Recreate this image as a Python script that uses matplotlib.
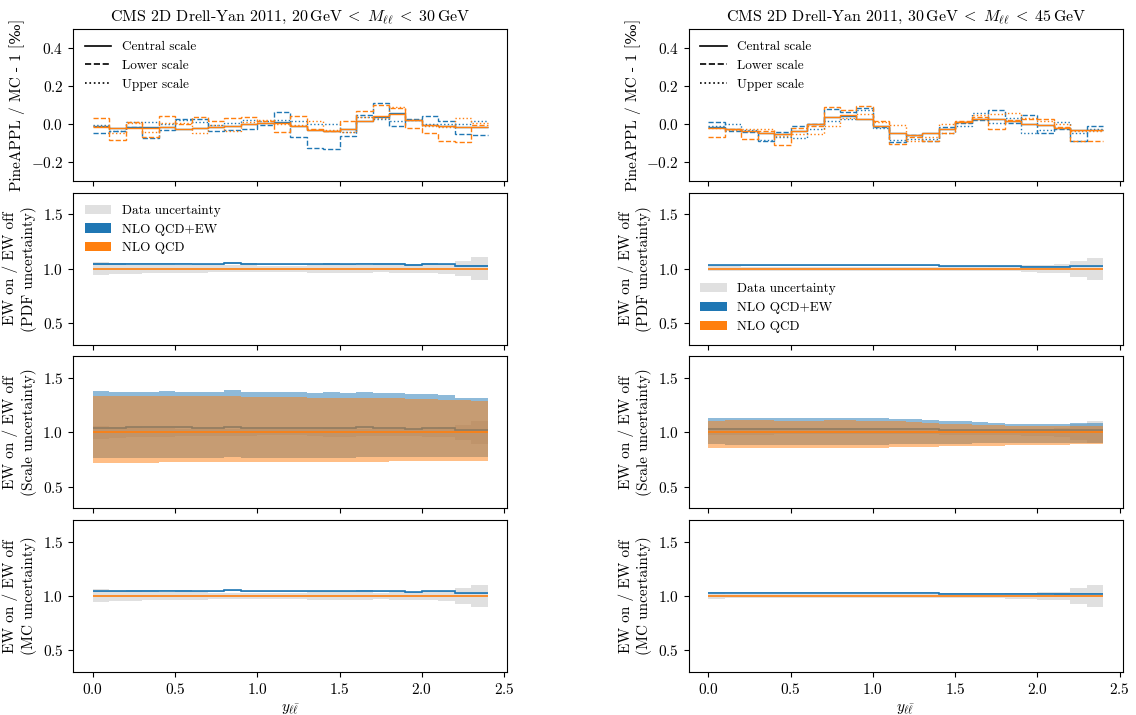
import numpy as np
import matplotlib
matplotlib.use("Agg")
import matplotlib.pyplot as plt
from matplotlib.lines import Line2D
from matplotlib.patches import Patch

plt.rcParams['font.family'] = ['cmr10', 'DejaVu Serif']
plt.rcParams['mathtext.fontset'] = 'cm'
plt.rcParams['axes.formatter.use_mathtext'] = True
plt.rcParams['font.size'] = 11

# rapidity bins
edges = [0.0, 0.1, 0.2, 0.3, 0.4, 0.5, 0.6, 0.7, 0.8, 0.9, 1.0, 1.1, 1.2,
         1.3, 1.4, 1.5, 1.6, 1.7, 1.8, 1.9, 2.0, 2.1, 2.2, 2.3, 2.4]

# ---- PineAPPL / MC - 1 [permille], 20 < M < 30 GeV
central_qcdew_l = [-0.010, -0.020, -0.017, -0.017, -0.017, -0.024, -0.021, -0.016, -0.009, 0.000, 0.005, 0.009,
                   -0.009, -0.030, -0.038, -0.024, 0.014, 0.040, 0.056, 0.023, -0.003, -0.012, -0.017, -0.016]
central_qcd_l = [-0.013, -0.021, -0.018, -0.018, -0.016, -0.023, -0.022, -0.015, -0.008, 0.001, 0.006, 0.008,
                 -0.010, -0.031, -0.037, -0.023, 0.015, 0.041, 0.053, 0.024, -0.004, -0.011, -0.016, -0.015]
lower_qcdew_l = [-0.044, -0.035, -0.015, -0.073, -0.033, 0.028, 0.026, -0.038, -0.033, -0.026, -0.002, 0.066,
                 -0.070, -0.126, -0.129, -0.061, 0.049, 0.110, -0.009, 0.028, 0.045, 0.014, -0.052, -0.056]
lower_qcd_l = [0.031, -0.082, 0.010, -0.065, 0.044, 0.002, 0.040, 0.019, 0.033, 0.040, 0.014, -0.042,
               0.044, -0.026, -0.038, 0.019, 0.068, 0.101, 0.084, -0.021, -0.044, -0.087, -0.092, -0.005]
upper_qcdew_l = [-0.005, -0.035, 0.009, 0.009, 0.000, 0.020, 0.010, -0.007, 0.005, 0.023, 0.015, 0.020,
                 0.014, 0.000, 0.000, -0.040, 0.035, 0.026, 0.017, 0.020, 0.003, 0.003, 0.002, 0.017]
upper_qcd_l = [-0.008, -0.045, 0.005, -0.040, 0.005, 0.005, -0.047, -0.003, -0.035, 0.012, 0.020, 0.003,
               -0.007, 0.016, -0.030, -0.042, 0.040, 0.030, 0.089, 0.023, -0.012, -0.015, 0.033, 0.005]

# ---- PineAPPL / MC - 1 [permille], 30 < M < 45 GeV
central_qcdew_r = [-0.017, -0.024, -0.037, -0.049, -0.052, -0.035, 0.000, 0.035, 0.045, 0.028, -0.009, -0.047,
                   -0.056, -0.044, -0.026, 0.010, 0.026, 0.028, 0.014, 0.000, -0.007, -0.021, -0.030, -0.030]
central_qcd_r = [-0.018, -0.023, -0.036, -0.048, -0.051, -0.036, -0.001, 0.036, 0.046, 0.027, -0.008, -0.046,
                 -0.057, -0.045, -0.025, 0.011, 0.027, 0.029, 0.015, 0.001, -0.006, -0.020, -0.031, -0.031]
lower_qcdew_r = [0.009, -0.035, -0.042, -0.091, -0.042, -0.009, 0.000, 0.079, 0.066, 0.084, -0.017, -0.094,
                 -0.059, -0.087, -0.017, 0.005, 0.023, 0.072, 0.005, 0.049, -0.047, -0.026, -0.086, -0.012]
lower_qcd_r = [-0.065, -0.026, -0.079, -0.038, -0.112, -0.021, -0.009, 0.089, 0.072, 0.098, 0.017, -0.103,
               -0.065, -0.091, -0.047, 0.014, 0.040, -0.026, 0.023, 0.026, 0.026, -0.017, -0.091, -0.091]
upper_qcdew_r = [-0.012, 0.002, -0.030, -0.082, -0.068, -0.073, -0.026, 0.014, 0.028, 0.072, -0.021, -0.085,
                 -0.080, -0.080, -0.044, -0.012, 0.058, 0.005, 0.031, -0.044, -0.030, 0.009, -0.047, -0.026]
upper_qcd_r = [-0.021, -0.030, -0.026, -0.026, -0.061, -0.052, -0.052, -0.012, 0.031, 0.054, 0.010, -0.005,
               -0.086, -0.065, 0.000, 0.009, 0.049, 0.054, 0.058, 0.031, 0.014, 0.000, -0.038, -0.038]

# ---- EW on / EW off
ewon_l = [1.043, 1.043, 1.045, 1.045, 1.046, 1.045, 1.042, 1.042, 1.052, 1.043, 1.042, 1.042,
          1.042, 1.042, 1.043, 1.042, 1.045, 1.043, 1.044, 1.035, 1.043, 1.042, 1.026, 1.024]
ewon_r = [1.030, 1.030, 1.030, 1.030, 1.030, 1.030, 1.030, 1.030, 1.030, 1.030, 1.030, 1.030,
          1.030, 1.030, 1.022, 1.022, 1.022, 1.022, 1.022, 1.020, 1.020, 1.018, 1.022, 1.022]
data_unc_l = [0.060, 0.050, 0.045, 0.040, 0.040, 0.035, 0.035, 0.030, 0.030, 0.030, 0.028, 0.028,
              0.028, 0.035, 0.040, 0.040, 0.035, 0.030, 0.035, 0.035, 0.040, 0.045, 0.070, 0.105]
data_unc_r = [0.025, 0.022, 0.020, 0.020, 0.018, 0.018, 0.018, 0.018, 0.018, 0.018, 0.018, 0.018,
              0.018, 0.018, 0.020, 0.020, 0.020, 0.022, 0.025, 0.030, 0.035, 0.040, 0.075, 0.100]
pdf_unc = 0.006
mc_unc = 0.005

scale_up_qcdew_l = [1.380, 1.370, 1.370, 1.375, 1.380, 1.375, 1.370, 1.370, 1.385, 1.370, 1.370, 1.370,
                    1.370, 1.365, 1.370, 1.365, 1.370, 1.365, 1.360, 1.350, 1.355, 1.340, 1.320, 1.320]
scale_lo_qcdew_l = [0.760, 0.760, 0.760, 0.760, 0.765, 0.760, 0.760, 0.760, 0.770, 0.765, 0.765, 0.765,
                    0.765, 0.765, 0.765, 0.765, 0.770, 0.770, 0.770, 0.770, 0.775, 0.775, 0.770, 0.770]
scale_up_qcd_l = [1.335, 1.330, 1.330, 1.330, 1.330, 1.330, 1.330, 1.330, 1.330, 1.325, 1.325, 1.325,
                  1.325, 1.320, 1.320, 1.320, 1.320, 1.315, 1.315, 1.310, 1.305, 1.300, 1.295, 1.290]
scale_lo_qcd_l = [0.720, 0.720, 0.720, 0.720, 0.725, 0.725, 0.725, 0.725, 0.725, 0.725, 0.725, 0.725,
                  0.725, 0.730, 0.730, 0.730, 0.730, 0.730, 0.735, 0.735, 0.735, 0.740, 0.740, 0.740]

scale_up_qcdew_r = [1.130, 1.135, 1.135, 1.135, 1.130, 1.130, 1.130, 1.135, 1.135, 1.130, 1.130, 1.125,
                    1.120, 1.110, 1.100, 1.100, 1.095, 1.085, 1.080, 1.080, 1.075, 1.075, 1.085, 1.090]
scale_lo_qcdew_r = [0.890, 0.885, 0.885, 0.885, 0.885, 0.885, 0.885, 0.885, 0.885, 0.885, 0.885, 0.890,
                    0.890, 0.890, 0.895, 0.895, 0.900, 0.900, 0.905, 0.905, 0.905, 0.905, 0.905, 0.905]
scale_up_qcd_r = [1.105, 1.110, 1.110, 1.110, 1.105, 1.105, 1.105, 1.110, 1.110, 1.105, 1.100, 1.100,
                  1.095, 1.085, 1.080, 1.075, 1.070, 1.065, 1.060, 1.060, 1.055, 1.055, 1.060, 1.060]
scale_lo_qcd_r = [0.860, 0.860, 0.860, 0.860, 0.860, 0.860, 0.860, 0.860, 0.860, 0.860, 0.860, 0.865,
                  0.865, 0.865, 0.870, 0.870, 0.875, 0.875, 0.880, 0.880, 0.885, 0.885, 0.890, 0.890]

titles = [r'CMS 2D Drell-Yan 2011, $20\,\mathrm{GeV} \;<\; M_{\ell\ell} \;<\; 30\,\mathrm{GeV}$',
          r'CMS 2D Drell-Yan 2011, $30\,\mathrm{GeV} \;<\; M_{\ell\ell} \;<\; 45\,\mathrm{GeV}$']

C_EW = 'tab:blue'
C_QCD = 'tab:orange'
edges = np.array(edges)


def plot_mc_diff(ax, cen, low, up):
    for k, col in enumerate([C_EW, C_QCD]):
        ax.stairs(np.array(cen[k]), edges, color=col, linewidth=1.0, baseline=None)
        ax.stairs(np.array(low[k]), edges, color=col, linewidth=1.0, linestyle='--', baseline=None)
        ax.stairs(np.array(up[k]), edges, color=col, linewidth=1.0, linestyle=':', baseline=None)
    ax.set_ylim(-0.3, 0.5)
    ax.set_yticks([-0.2, 0.0, 0.2, 0.4])
    ax.set_ylabel('PineAPPL / MC - 1 [‰]')
    handles = [Line2D([], [], color='black', linestyle=ls, linewidth=1.2) for ls in ['-', '--', ':']]
    ax.legend(handles, ['Central scale', 'Lower scale', 'Upper scale'], loc='upper left',
              frameon=False, fontsize=9.5)


def plot_ewonoff(ax, ewon, data_unc, ew_lo, ew_hi, qcd_lo, qcd_hi, label):
    ewon = np.array(ewon)
    d = np.array(data_unc)
    one = np.ones_like(ewon)
    ax.stairs(one + d, edges, baseline=one - d, fill=True, color='black', alpha=0.12, linewidth=0)
    ax.stairs(np.array(ew_hi), edges, baseline=np.array(ew_lo), fill=True, color=C_EW, alpha=0.5, linewidth=0)
    ax.stairs(ewon, edges, color=C_EW, linewidth=1.2, baseline=None)
    ax.stairs(np.array(qcd_hi), edges, baseline=np.array(qcd_lo), fill=True, color=C_QCD, alpha=0.5, linewidth=0)
    ax.stairs(one, edges, color=C_QCD, linewidth=1.2, baseline=None)
    ax.set_ylim(0.3, 1.7)
    ax.set_yticks([0.5, 1.0, 1.5])
    ax.set_ylabel('EW on / EW off\n(' + label + ')')


fig, axes = plt.subplots(4, 2, figsize=(11.36, 7.15), dpi=100, sharex=True)
fig.subplots_adjust(left=0.0643, right=0.9886, top=0.9594, bottom=0.0601, hspace=0.075, wspace=0.417)

cols = [
    dict(cen=(central_qcdew_l, central_qcd_l), low=(lower_qcdew_l, lower_qcd_l), up=(upper_qcdew_l, upper_qcd_l),
         ewon=ewon_l, data=data_unc_l, sup_ew=scale_up_qcdew_l, slo_ew=scale_lo_qcdew_l,
         sup_qcd=scale_up_qcd_l, slo_qcd=scale_lo_qcd_l, legloc='upper left'),
    dict(cen=(central_qcdew_r, central_qcd_r), low=(lower_qcdew_r, lower_qcd_r), up=(upper_qcdew_r, upper_qcd_r),
         ewon=ewon_r, data=data_unc_r, sup_ew=scale_up_qcdew_r, slo_ew=scale_lo_qcdew_r,
         sup_qcd=scale_up_qcd_r, slo_qcd=scale_lo_qcd_r, legloc='lower left'),
]

for j, cd in enumerate(cols):
    plot_mc_diff(axes[0, j], cd['cen'], cd['low'], cd['up'])
    axes[0, j].set_title(titles[j], fontsize=11.5)

    ew = np.array(cd['ewon'])
    # PDF uncertainty
    plot_ewonoff(axes[1, j], ew, cd['data'], ew - pdf_unc, ew + pdf_unc,
                 np.ones_like(ew) - 0.002, np.ones_like(ew) + 0.002, 'PDF uncertainty')
    handles = [Patch(color='black', alpha=0.12, linewidth=0),
               Patch(color=C_EW, linewidth=0), Patch(color=C_QCD, linewidth=0)]
    axes[1, j].legend(handles, ['Data uncertainty', 'NLO QCD+EW', 'NLO QCD'], loc=cd['legloc'],
                      frameon=False, fontsize=9.5)
    # scale uncertainty
    plot_ewonoff(axes[2, j], ew, cd['data'], cd['slo_ew'], cd['sup_ew'],
                 cd['slo_qcd'], cd['sup_qcd'], 'Scale uncertainty')
    # MC uncertainty
    plot_ewonoff(axes[3, j], ew, cd['data'], ew - mc_unc, ew + mc_unc,
                 np.ones_like(ew) - 0.002, np.ones_like(ew) + 0.002, 'MC uncertainty')
    axes[3, j].set_xlabel(r'$y_{\ell\bar{\ell}}$')
    axes[3, j].set_xticks([0.0, 0.5, 1.0, 1.5, 2.0, 2.5])

axes[3, 0].set_xlim(-0.12, 2.52)

fig.savefig('out.png', dpi=100)
